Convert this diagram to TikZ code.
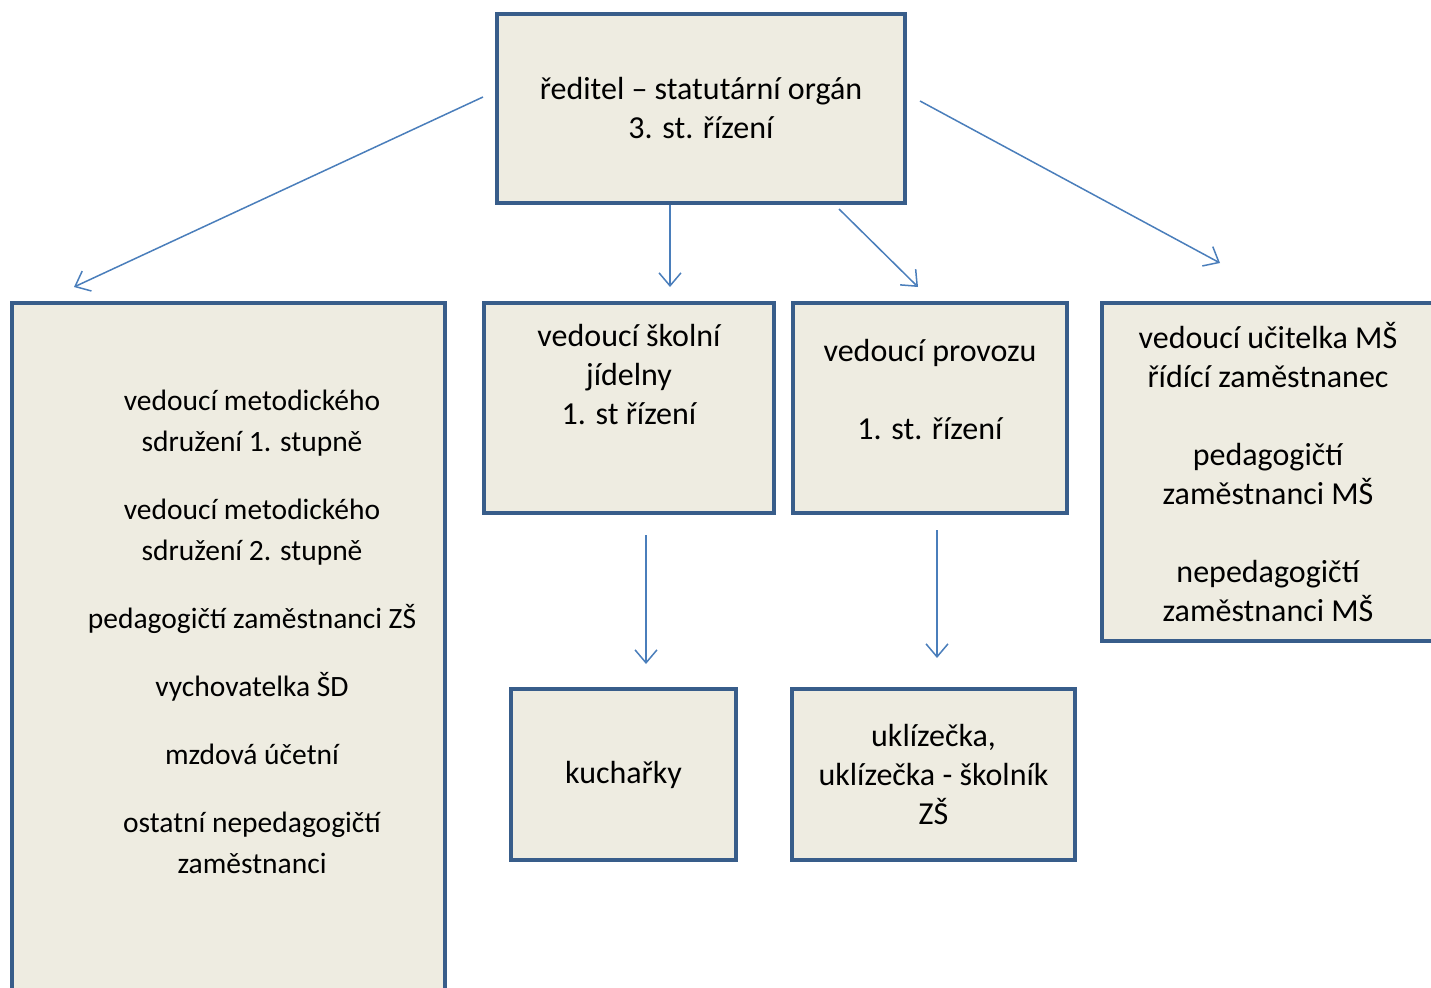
\documentclass[tikz,border=0pt]{standalone}
\usepackage{fontspec}
\setmainfont{Carlito}
\usepackage{xcolor}
\definecolor{boxline}{HTML}{385D8A}
\definecolor{boxfill}{HTML}{EEECE1}
\definecolor{arrowblue}{HTML}{4A7EBB}
\usetikzlibrary{arrows.meta, positioning}

\begin{document}
\begin{tikzpicture}[
        x=1pt, y=-1pt,
        font=\fontsize{32}{39}\selectfont,
        org_box/.style={
            rectangle,
            draw=boxline,
            fill=boxfill,
            line width=4pt,
            align=center,
            inner sep=0pt
        },
        box_text/.style={
            align=center,
            inner sep=0pt
        },
        arrow/.style={
            -{Straight Barb[length=13pt, width=22pt, line width=1.5pt]},
            draw=arrowblue,
            line width=1.5pt
        }
    ]
    \useasboundingbox (0,0) rectangle (1431,987);

    % Top
    \node[org_box, minimum width=408pt, minimum height=189pt] (boss) at (701,108.5) {ředitel -- statutární orgán\\3. st. řízení};

    % Second level
    \node[org_box, minimum width=433pt, minimum height=720pt] (zs) at (228.5,663) {};
    \node[box_text, font=\fontsize{29.5}{41}\selectfont] (zs_text) at (252,632) {vedoucí metodického\\sdružení 1. stupně\\[27pt]vedoucí metodického\\sdružení 2. stupně\\[27pt]pedagogičtí zaměstnanci ZŠ\\[27pt]vychovatelka ŠD\\[27pt]mzdová účetní\\[27pt]ostatní nepedagogičtí\\zaměstnanci};

    \node[org_box, minimum width=290pt, minimum height=210pt] (jidelna) at (629,408) {};
    \node[box_text, below=23pt of jidelna.north] (jidelna_text) {vedoucí školní\\jídelny\\1. st řízení};

    \node[org_box, minimum width=274pt, minimum height=210pt] (provoz) at (930,408) {};
    \node[box_text, below=38pt of provoz.north] (provoz_text) {vedoucí provozu\\[39pt]1. st. řízení};

    \node[org_box, minimum width=332pt, minimum height=338pt] (ms) at (1268,472) {vedoucí učitelka MŠ\\řídící zaměstnanec\\[39pt]pedagogičtí\\zaměstnanci MŠ\\[39pt]nepedagogičtí\\zaměstnanci MŠ};

    % Third level
    \node[org_box, minimum width=225pt, minimum height=171pt] (kucharky) at (623.5,774.5) {\raisebox{-3pt}{kuchařky}};
    \node[org_box, minimum width=283pt, minimum height=171pt] (uklid) at (933.5,774.5) {uklízečka,\\uklízečka - školník\\ZŠ};

    % Arrow ends
    \coordinate (to_zs_start) at (483,97);
    \coordinate (to_zs_tip) at (74,287);
    \coordinate (to_jidelna_start) at (670,205);
    \coordinate (to_jidelna_tip) at (670,287);
    \coordinate (to_provoz_start) at (839,209);
    \coordinate (to_provoz_tip) at (918,287);
    \coordinate (to_ms_start) at (920,101);
    \coordinate (to_ms_tip) at (1220,263);
    \coordinate (to_kucharky_start) at (646,535);
    \coordinate (to_kucharky_tip) at (646,664);
    \coordinate (to_uklid_start) at (937,530);
    \coordinate (to_uklid_tip) at (937,658);

    \draw[arrow] (to_zs_start) -- (to_zs_tip);
    \draw[arrow] (to_jidelna_start) -- (to_jidelna_tip);
    \draw[arrow] (to_provoz_start) -- (to_provoz_tip);
    \draw[arrow] (to_ms_start) -- (to_ms_tip);
    \draw[arrow] (to_kucharky_start) -- (to_kucharky_tip);
    \draw[arrow] (to_uklid_start) -- (to_uklid_tip);

\end{tikzpicture}
\end{document}
